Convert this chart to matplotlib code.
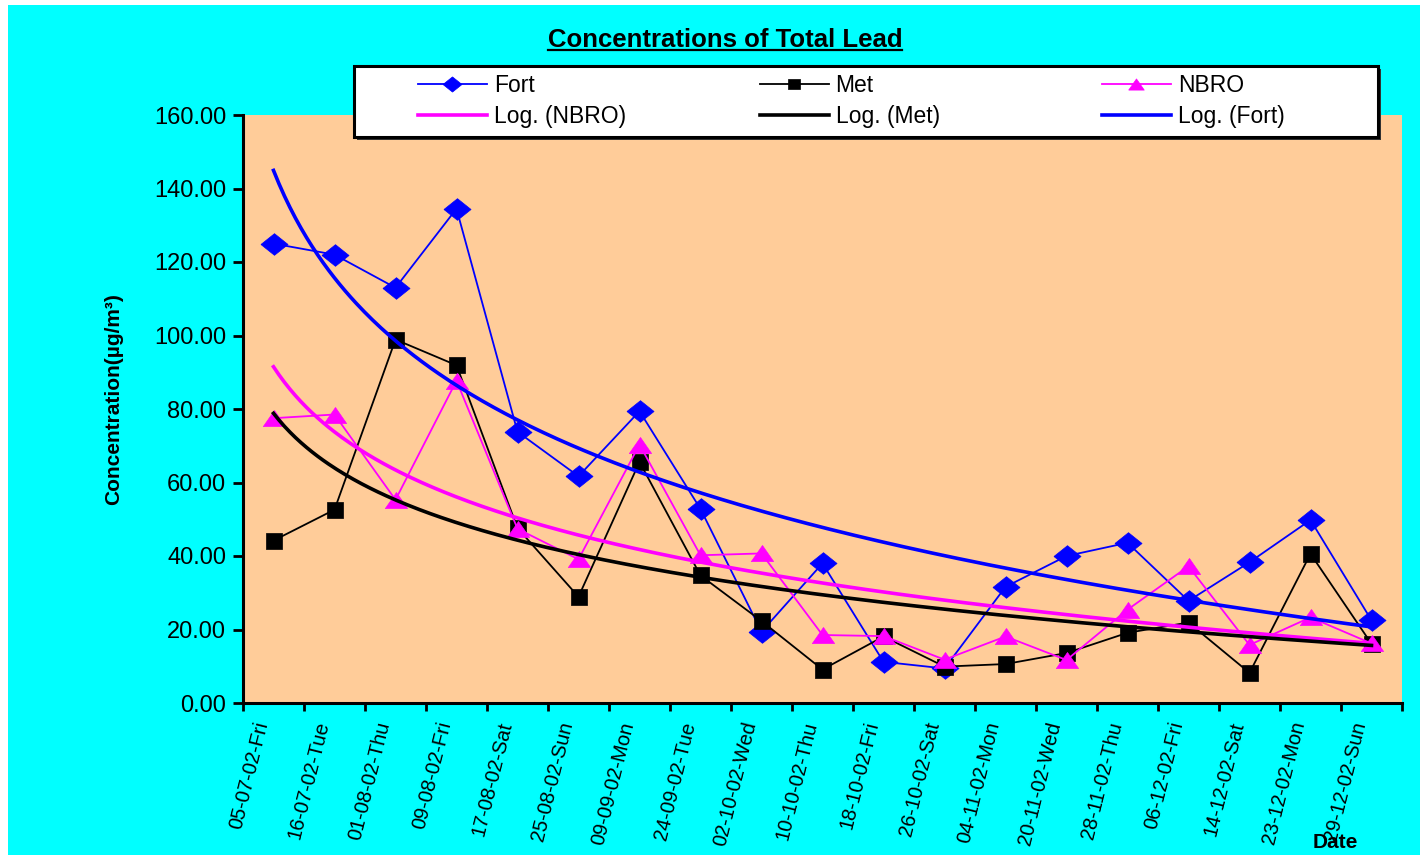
import numpy as np
import matplotlib
matplotlib.use("Agg")
import matplotlib.pyplot as plt
from matplotlib.patches import Rectangle
from matplotlib.lines import Line2D
from matplotlib import transforms

plt.rcParams['font.family'] = ['Liberation Sans', 'DejaVu Sans']

# ---- data -------------------------------------------------------------
dates = ["05-07-02-Fri", "16-07-02-Tue", "01-08-02-Thu", "09-08-02-Fri",
         "17-08-02-Sat", "25-08-02-Sun", "09-09-02-Mon", "24-09-02-Tue",
         "02-10-02-Wed", "10-10-02-Thu", "18-10-02-Fri", "26-10-02-Sat",
         "04-11-02-Mon", "20-11-02-Wed", "28-11-02-Thu", "06-12-02-Fri",
         "14-12-02-Sat", "23-12-02-Mon", "29-12-02-Sun"]
fort = [125.0, 122.0, 113.0, 134.5, 73.8, 61.7, 79.4, 52.8, 19.4, 38.0,
        11.2, 9.4, 31.6, 40.0, 43.6, 27.8, 38.3, 49.8, 22.5]
met = [44.2, 52.6, 98.9, 91.9, 47.6, 28.9, 65.6, 34.7, 22.3, 9.1,
       18.1, 9.9, 10.6, 13.6, 19.1, 21.9, 8.2, 40.6, 16.1]
nbro = [77.5, 78.5, 55.3, 87.7, 47.4, 39.1, 70.3, 40.2, 40.7, 18.5,
        18.2, 11.8, 18.1, 11.7, 25.4, 37.2, 15.8, 23.3, 16.2]
yticks = [0, 20, 40, 60, 80, 100, 120, 140, 160]

W, H = 1420, 855
fig = plt.figure(figsize=(W / 100, H / 100), dpi=100, facecolor='white')

# cyan chart area
fig.patches.append(Rectangle((8 / W, 0), 1 - 8 / W, 1 - 5 / H,
                             transform=fig.transFigure, facecolor='#00FFFF',
                             edgecolor='none', zorder=-1))

ax = fig.add_axes([243 / W, 1 - 703 / H, (1402 - 243) / W, (703 - 115) / H])
ax.set_facecolor('#FFCC99')

x = np.arange(len(dates))

# wide markers
diamond = [(-1, 0), (0, 0.8), (1, 0), (0, -0.8), (-1, 0)]
square = [(-1, -0.9), (1, -0.9), (1, 0.9), (-1, 0.9), (-1, -0.9)]
triangle = [(-1, -0.72), (1, -0.72), (0, 0.72), (-1, -0.72)]

h_fort, = ax.plot(x, fort, color='#0000FF', lw=1.3, marker=diamond,
                  markersize=19.5, mec='#0000FF', mew=0.5, zorder=3, clip_on=False)
h_met, = ax.plot(x, met, color='black', lw=1.3, marker=square,
                 markersize=12, mec='black', mew=0.5, zorder=4, clip_on=False)
h_nbro, = ax.plot(x, nbro, color='#FF00FF', lw=1.3, marker=triangle,
                  markersize=16, mec='#FF00FF', mew=0.5, zorder=5, clip_on=False)

# logarithmic trend lines  y = a*ln(n) + b, n = 1..N
n = x + 1.0
nf = np.linspace(1, len(dates), 400)
trend = {}
for name, vals in (('NBRO', nbro), ('Met', met), ('Fort', fort)):
    a, b = np.polyfit(np.log(n), np.asarray(vals), 1)
    trend[name] = a * np.log(nf) + b
h_tn, = ax.plot(nf - 1, trend['NBRO'], color='#FF00FF', lw=2.6, zorder=6)
h_tm, = ax.plot(nf - 1, trend['Met'], color='black', lw=2.6, zorder=6)
h_tf, = ax.plot(nf - 1, trend['Fort'], color='#0000FF', lw=2.6, zorder=6)

ax.set_xlim(-0.5, len(dates) - 0.5)
ax.set_ylim(0, 160)
ax.set_yticks(yticks)
ax.set_yticklabels([f"{v:.2f}" for v in yticks], fontsize=17)
ax.set_xticks(np.arange(len(dates) + 1) - 0.5)
ax.set_xticklabels([])
ax.tick_params(axis='y', length=7, width=2, direction='out', pad=5)
ax.tick_params(axis='x', length=6, width=2, direction='out')
for s in ('top', 'right'):
    ax.spines[s].set_visible(False)
for s in ('left', 'bottom'):
    ax.spines[s].set_linewidth(2.2)

# slanted date labels
base = transforms.blended_transform_factory(ax.transData, ax.transAxes)
lab_tr = transforms.offset_copy(base, fig=fig, x=-11, y=-19, units='dots')
for i, d in enumerate(dates):
    ax.text(i, 0, d, transform=lab_tr, rotation=76, rotation_mode='anchor',
            ha='right', va='center', fontsize=14.5, clip_on=False)

# axis titles
fig.text(114 / W, 1 - 399 / H, "Concentration(µg/m³)", rotation=90,
         ha='center', va='center', fontsize=15, fontweight='bold')
fig.text(1335 / W, 1 - 842 / H, "Date", ha='center', va='center',
         fontsize=15, fontweight='bold')

# title with underline
title = fig.text(725 / W, 1 - 40 / H, "Concentrations of Total Lead",
                 ha='center', va='center', fontsize=18.5, fontweight='bold')
fig.canvas.draw()
bb = title.get_window_extent(fig.canvas.get_renderer())
inv = fig.transFigure.inverted()
(x0, y0), (x1, _) = inv.transform([(bb.x0, bb.y0 + 2), (bb.x1, bb.y0 + 2)])
fig.add_artist(Line2D([x0, x1], [y0, y0], transform=fig.transFigure,
                      color='black', lw=1.6))

# legend frame with shadow
lx0, ly0, lx1, ly1 = 354, 66, 1378, 137
fig.patches.append(Rectangle(((lx0 + 3) / W, 1 - (ly1 + 3) / H),
                             (lx1 - lx0) / W, (ly1 - ly0) / H,
                             transform=fig.transFigure, facecolor='#333333',
                             edgecolor='none', zorder=4))
fig.patches.append(Rectangle((lx0 / W, 1 - ly1 / H), (lx1 - lx0) / W,
                             (ly1 - ly0) / H, transform=fig.transFigure,
                             facecolor='white', edgecolor='black', lw=2.2,
                             zorder=5))

columns = [([h_fort, h_tn], ["Fort", "Log. (NBRO)"], 418),
           ([h_met, h_tm], ["Met", "Log. (Met)"], 760),
           ([h_nbro, h_tf], ["NBRO", "Log. (Fort)"], 1102)]
for handles, labels, px in columns:
    leg = fig.legend(handles, labels, loc='center left',
                     bbox_to_anchor=(px / W, 1 - 101 / H),
                     bbox_transform=fig.transFigure, frameon=False,
                     fontsize=16.5, handlelength=3.0, handletextpad=0.3,
                     borderpad=0, borderaxespad=0, labelspacing=0.35,
                     markerscale=0.7)
    leg.set_zorder(6)

fig.savefig("out.png", dpi=100, facecolor=fig.get_facecolor())
